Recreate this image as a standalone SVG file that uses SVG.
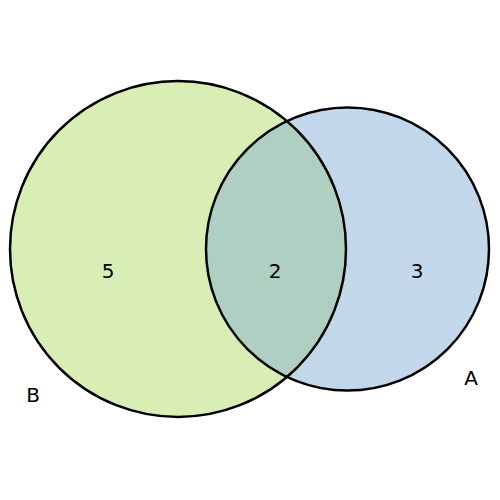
<svg xmlns="http://www.w3.org/2000/svg" width="500" height="500" viewBox="0 0 500 500">
<style>
.o{fill:none;stroke:#000;stroke-width:2.5}
text{font-family:"DejaVu Sans",sans-serif;font-size:20px;text-anchor:middle;fill:#000}
</style>
<defs><clipPath id="cb"><circle cx="178" cy="249" r="168"/></clipPath></defs>
<rect width="500" height="500" fill="#fff"/>
<g id="B"><circle cx="178" cy="249" r="168" fill="#d9eeb5"/></g>
<g id="A"><circle cx="347.5" cy="249" r="141.5" fill="#c2d7ea"/></g>
<g id="AB"><circle cx="347.5" cy="249" r="141.5" fill="#afcfc2" clip-path="url(#cb)"/></g>
<circle class="o" cx="178" cy="249" r="168"/>
<circle class="o" cx="347.5" cy="249" r="141.5"/>
<text x="108" y="278">5</text>
<text x="275" y="278">2</text>
<text x="417" y="278">3</text>
<text x="471" y="385">A</text>
<text x="33" y="402">B</text>
</svg>
